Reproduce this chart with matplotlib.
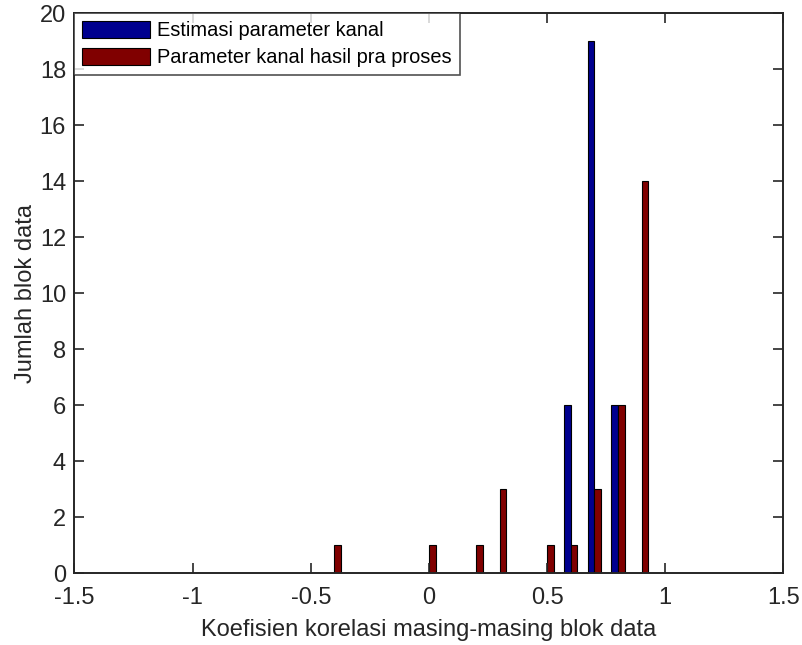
import matplotlib
matplotlib.use("Agg")
import matplotlib.pyplot as plt
import numpy as np

plt.rcParams['font.family'] = ['Liberation Sans', 'DejaVu Sans']

# histogram bin centres and counts for the two series
bin_centers = [-0.4, -0.3, -0.2, -0.1, 0.0, 0.1, 0.2, 0.3, 0.4, 0.5, 0.6, 0.7, 0.8, 0.9]
estimasi = [0, 0, 0, 0, 0, 0, 0, 0, 0, 0, 6, 19, 6, 0]
pra_proses = [1, 0, 0, 0, 1, 0, 1, 3, 0, 1, 1, 3, 6, 14]

series_labels = ['Estimasi parameter kanal', 'Parameter kanal hasil pra proses']
x_ticks = [-1.5, -1, -0.5, 0, 0.5, 1, 1.5]
x_tick_labels = ['-1.5', '-1', '-0.5', '0', '0.5', '1', '1.5']
y_ticks = [0, 2, 4, 6, 8, 10, 12, 14, 16, 18, 20]

blue = '#00008F'
red = '#800000'
ink = '#262626'

fig = plt.figure(figsize=(8.03, 6.45), dpi=100)
ax = fig.add_axes([0.0927, 0.1116, 0.8830, 0.8682])

centers = np.array(bin_centers)
bw = 0.028
ax.bar(centers - bw / 2, estimasi, width=bw, color=blue,
       edgecolor='black', linewidth=0.8, label=series_labels[0])
ax.bar(centers + bw / 2, pra_proses, width=bw, color=red,
       edgecolor='black', linewidth=0.8, label=series_labels[1])

ax.set_xlim(-1.5, 1.5)
ax.set_ylim(0, 20)
ax.set_xticks(x_ticks)
ax.set_xticklabels(x_tick_labels)
ax.set_yticks(y_ticks)
ax.tick_params(direction='in', length=7, width=1.2, colors=ink,
               labelsize=17, top=True, right=True)
ax.tick_params(axis='x', pad=10)
ax.tick_params(axis='y', pad=6)
for s in ax.spines.values():
    s.set_color(ink)
    s.set_linewidth(1.4)

ax.set_xlabel('Koefisien korelasi masing-masing blok data', fontsize=17, color=ink, labelpad=7)
ax.set_ylabel('Jumlah blok data', fontsize=17, color=ink, labelpad=2)

leg = ax.legend(loc='upper left', bbox_to_anchor=(0.0, 1.0), borderaxespad=0,
                fontsize=14.4, frameon=True, fancybox=False, handlelength=3.4,
                handleheight=0.9, handletextpad=0.35, borderpad=0.4,
                labelspacing=0.4)
leg.get_frame().set_edgecolor(ink)
leg.get_frame().set_linewidth(1.2)
leg.set_zorder(10)

fig.savefig('out.png', dpi=100)
